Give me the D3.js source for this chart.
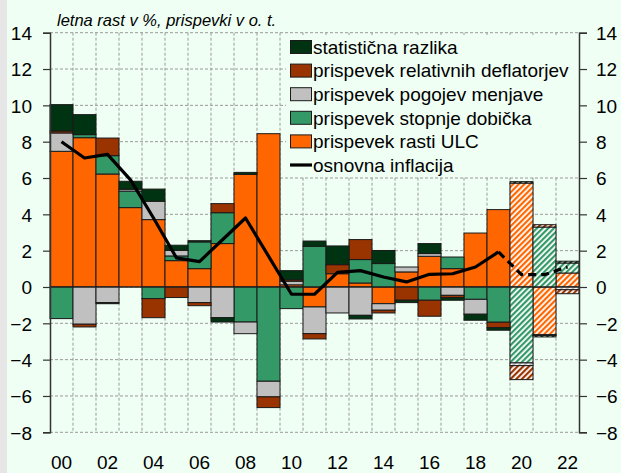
<!DOCTYPE html>
<html>
<head>
<meta charset="utf-8">
<script src="https://cdn.jsdelivr.net/npm/d3@7"></script>
<style>
  body { margin: 0; background: #effff4; }
  svg { display: block; }
  text { font-family: "Liberation Sans Narrow", "Arial Narrow", "Liberation Sans", Arial, sans-serif; fill: #000; }
</style>
</head>
<body>
<svg id="chart" width="621" height="473"></svg>
<script>
// years and series (contributions in p.p.)
var years = d3.range(2000, 2023);
var ulc    = [7.47, 8.22, 6.22, 4.37, 3.71, 1.45, 1.01, 2.39, 6.20, 8.44, 0.12, -1.10, 0.73, 0.22, -0.92, 0.83, 1.69, 1.01, 2.97, 4.26, 5.72, -2.62, 0.77];
var profit = [-1.74, 0.17, 1.01, 0.91, -0.64, 0.26, 1.47, 1.70, -1.93, -5.19, -1.19, 2.24, 0.00, 1.29, 1.29, 0.00, -0.73, 0.64, -0.68, -1.94, -4.18, 3.30, 0.55];
var tot    = [1.01, -2.05, -0.86, 0.10, 1.01, 0.31, -0.86, -1.69, -0.64, -0.86, 0.20, -1.47, -1.43, -1.56, -0.36, 0.27, 0.15, -0.46, -0.82, 0.00, -0.15, -0.05, -0.15];
var defl   = [0.11, -0.15, 0.97, 0.00, -1.05, -0.58, -0.17, 0.50, 0.00, -0.59, 0.08, -0.29, 0.50, 1.10, -0.15, -0.73, -0.88, -0.12, 0.00, -0.30, -0.77, 0.13, -0.22];
var stat   = [1.45, 1.10, -0.06, 0.44, 0.67, 0.28, 0.07, -0.24, 0.11, 0.00, 0.50, 0.29, 1.03, -0.20, 0.72, -0.13, 0.55, -0.15, -0.33, -0.14, 0.08, -0.08, 0.10];
var core   = [8.0, 7.1, 7.3, 5.9, 3.8, 1.6, 1.4, 2.6, 3.8, 1.7, -0.4, -0.4, 0.8, 0.9, 0.55, 0.28, 0.7, 0.73, 1.1, 1.93, 0.68, 0.68, 1.1];
var firstForecast = 2020;

var yTicks = d3.range(-8, 15, 2);

var keys = ["ulc", "profit", "tot", "defl", "stat"];
var colors = {ulc: "#ff6600", profit: "#339966", tot: "#c0c0c0", defl: "#993300", stat: "#003311"};
var legendItems = [
  {key: "stat",   label: "statistična razlika"},
  {key: "defl",   label: "prispevek relativnih deflatorjev"},
  {key: "tot",    label: "prispevek pogojev menjave"},
  {key: "profit", label: "prispevek stopnje dobička"},
  {key: "ulc",    label: "prispevek rasti ULC"},
  {key: "line",   label: "osnovna inflacija"}
];

function drawChart(){
  var rows = years.map(function(yr, i){
    return {year: yr, ulc: ulc[i], profit: profit[i], tot: tot[i], defl: defl[i], stat: stat[i]};
  });

  var svg = d3.select("#chart");
  var bg = "#effff4";

  svg.append("rect").attr("width", 621).attr("height", 473).attr("fill", bg);
  svg.append("rect").attr("width", 7).attr("height", 473).attr("fill", "#e6e6e6");

  var plotLeft = 50, plotRight = 579, plotTop = 32.7, plotBottom = 432.3;

  var x = d3.scaleBand().domain(years).range([plotLeft, plotRight]).padding(0);
  var y = d3.scaleLinear().domain([-8, 14]).range([plotBottom, plotTop]);

  // hatch patterns for forecast years
  var defs = svg.append("defs");
  keys.forEach(function(k){
    var p = defs.append("pattern")
      .attr("id", "hatch-" + k)
      .attr("patternUnits", "userSpaceOnUse")
      .attr("width", 4).attr("height", 4)
      .attr("patternTransform", "rotate(45)");
    p.append("rect").attr("width", 4).attr("height", 4).attr("fill", "#ffffff");
    p.append("rect").attr("width", 2.2).attr("height", 4).attr("fill", colors[k]);
  });

  // grid
  var grid = svg.append("g");
  grid.selectAll("line.h").data(yTicks).enter().append("line")
    .attr("x1", plotLeft).attr("x2", plotRight)
    .attr("y1", function(d){ return y(d); }).attr("y2", function(d){ return y(d); })
    .attr("stroke", "#9a9a9a").attr("stroke-width", 1).attr("stroke-dasharray", "3,2");
  grid.selectAll("line.v").data(years.slice(1)).enter().append("line")
    .attr("x1", function(d){ return x(d); }).attr("x2", function(d){ return x(d); })
    .attr("y1", plotTop).attr("y2", plotBottom)
    .attr("stroke", "#9a9a9a").attr("stroke-width", 1).attr("stroke-dasharray", "3,2");

  // legend background hides grid behind it
  svg.append("rect").attr("x", 286).attr("y", 35).attr("width", plotRight - 287).attr("height", 141).attr("fill", bg);

  // stacked bars
  var series = d3.stack().keys(keys).offset(d3.stackOffsetDiverging)(rows);
  svg.append("g").selectAll("g").data(series).enter().append("g")
    .each(function(s){
      d3.select(this).selectAll("rect").data(s).enter().append("rect")
        .attr("x", function(d){ return x(d.data.year); })
        .attr("width", x.bandwidth())
        .attr("y", function(d){ return y(Math.max(d[0], d[1])); })
        .attr("height", function(d){ return Math.abs(y(d[0]) - y(d[1])); })
        .attr("fill", function(d){ return d.data.year >= firstForecast ? "url(#hatch-" + s.key + ")" : colors[s.key]; })
        .attr("stroke", "#1a1a1a").attr("stroke-width", 1)
        .style("display", function(d){ return d[0] === d[1] ? "none" : null; });
    });

  // zero line
  svg.append("line").attr("x1", plotLeft).attr("x2", plotRight).attr("y1", y(0)).attr("y2", y(0))
    .attr("stroke", "#222").attr("stroke-width", 1);

  // core inflation line, dashed for forecast
  var pts = years.map(function(yr, i){ return {year: yr, v: core[i]}; });
  var line = d3.line().x(function(d){ return x(d.year) + x.bandwidth() / 2; }).y(function(d){ return y(d.v); });
  svg.append("path").datum(pts.filter(function(d){ return d.year < firstForecast; }))
    .attr("d", line).attr("fill", "none").attr("stroke", "#000").attr("stroke-width", 3.2).attr("stroke-linejoin", "round");
  svg.append("path").datum(pts.filter(function(d){ return d.year >= firstForecast - 1; }))
    .attr("d", line).attr("fill", "none").attr("stroke", "#000").attr("stroke-width", 3.2).attr("stroke-dasharray", "8,5");

  // axes
  var yl = svg.append("g").attr("transform", "translate(" + plotLeft + ",0)")
    .call(d3.axisLeft(y).tickValues(yTicks).tickSize(7).tickPadding(11).tickFormat(d3.format("d")));
  var yrAxis = svg.append("g").attr("transform", "translate(" + plotRight + ",0)")
    .call(d3.axisRight(y).tickValues(yTicks).tickSize(8).tickPadding(9).tickFormat(d3.format("d")));
  [yl, yrAxis].forEach(function(a){
    a.select(".domain").attr("stroke", "#333").attr("stroke-width", 1.5);
    a.selectAll(".tick line").attr("stroke", "#333").attr("stroke-width", 1.2);
    a.selectAll(".tick text").style("font-size", "19px").attr("dy", "0.36em").attr("fill", "#000");
  });

  svg.append("g").selectAll("text").data(years.filter(function(d){ return d % 2 === 0; })).enter().append("text")
    .attr("x", function(d){ return x(d) + x.bandwidth() / 2; })
    .attr("y", 469)
    .attr("text-anchor", "middle")
    .style("font-size", "19px")
    .text(function(d){ return d3.format("02d")(d % 100); });

  // title
  svg.append("text").attr("x", 57).attr("y", 26)
    .style("font-size", "16.5px").style("font-style", "italic")
    .text("letna rast v %, prispevki v o. t.");

  // legend
  var lg = svg.append("g");
  legendItems.forEach(function(it, i){
    var cy = 47 + i * 23.6;
    if (it.key === "line") {
      lg.append("line").attr("x1", 290).attr("x2", 312).attr("y1", cy).attr("y2", cy)
        .attr("stroke", "#000").attr("stroke-width", 3.2);
    } else {
      lg.append("rect").attr("x", 290.5).attr("y", cy - 6.5).attr("width", 21).attr("height", 13)
        .attr("fill", colors[it.key]).attr("stroke", "#1a1a1a").attr("stroke-width", 1);
    }
    lg.append("text").attr("x", 313).attr("y", cy).attr("dy", "0.36em")
      .style("font-size", "19px").text(it.label);
  });
}

drawChart();
</script>
</body>
</html>
